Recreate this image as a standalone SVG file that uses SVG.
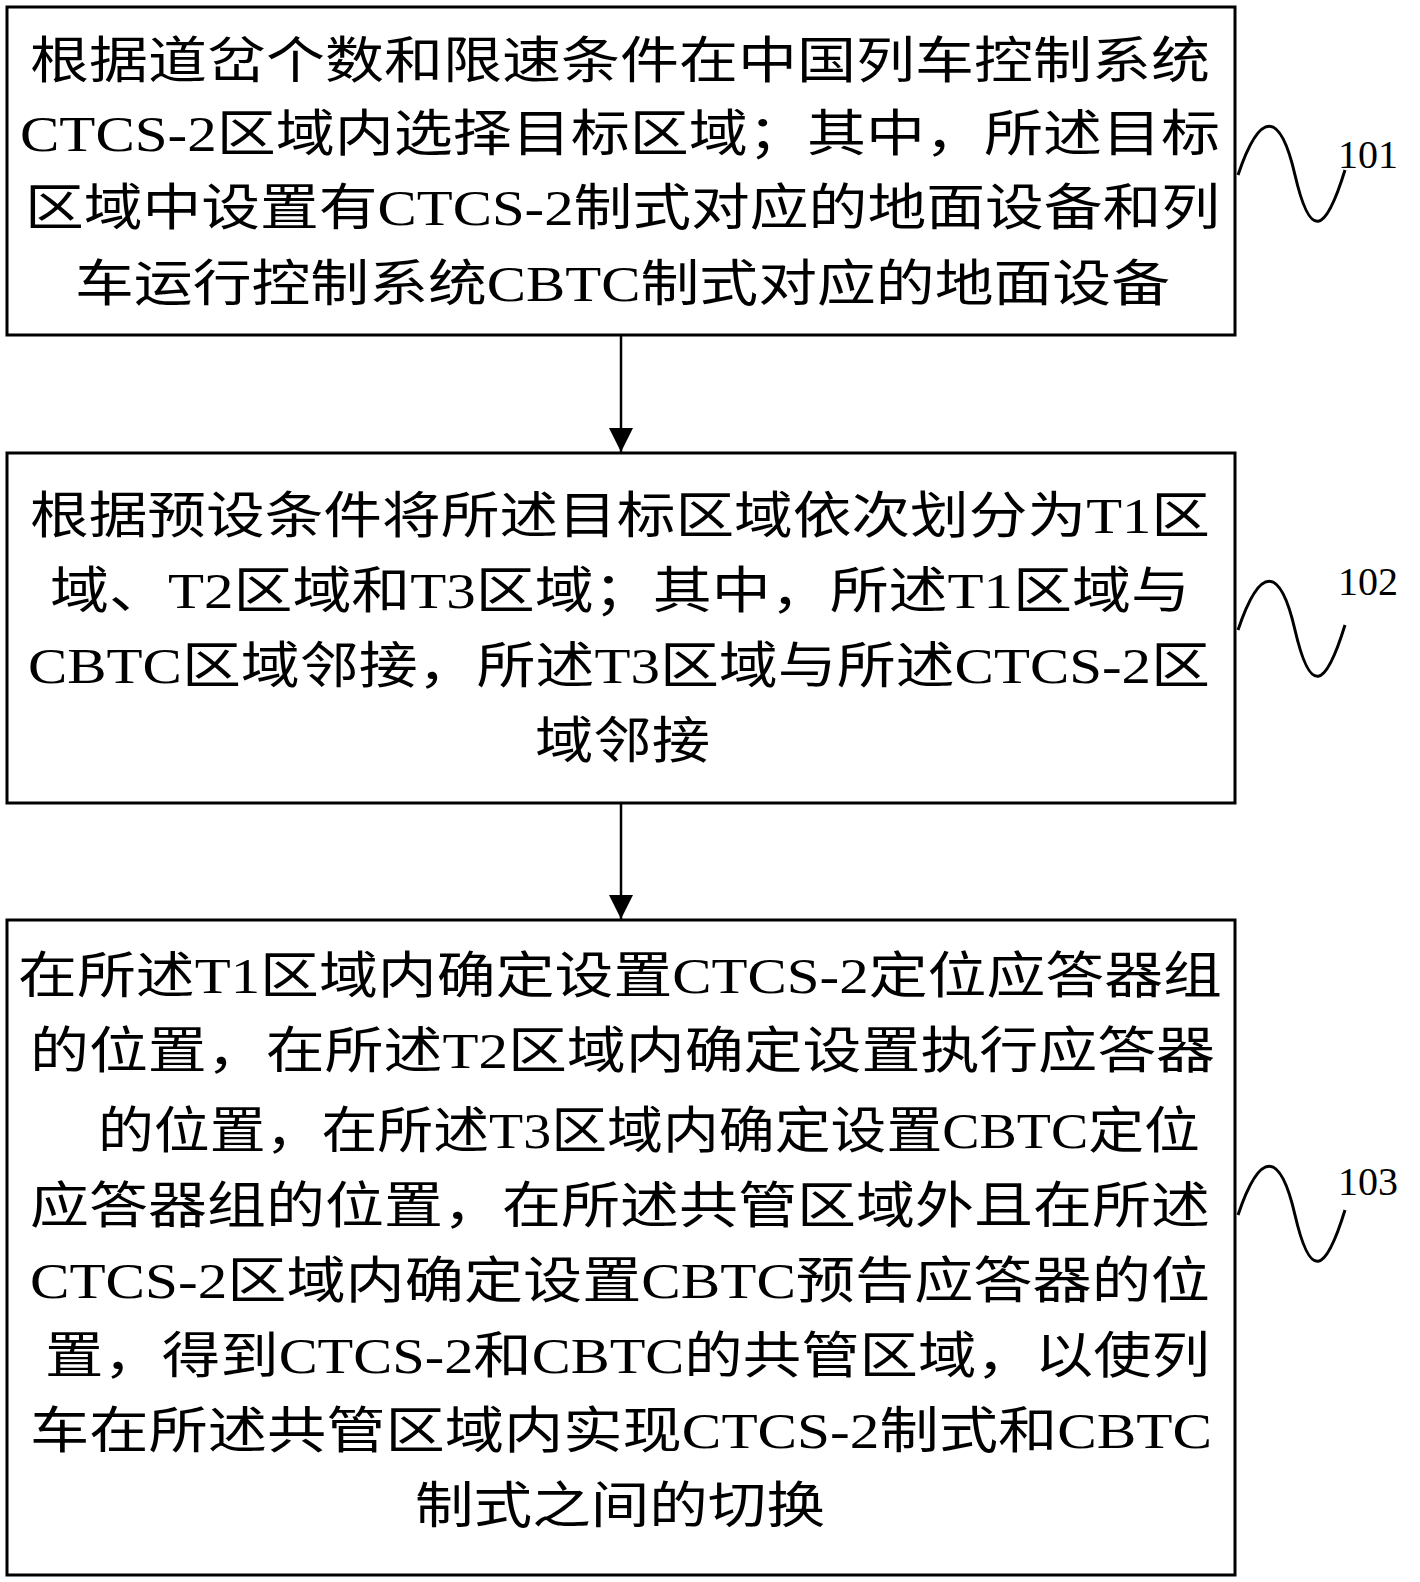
<svg xmlns="http://www.w3.org/2000/svg" width="1420" height="1582" viewBox="0 0 1420 1582">
<style>
.b{fill:#fff;stroke:#000;stroke-width:3}
.t{font-family:"Liberation Serif","Noto Sans CJK SC",serif;font-size:50px;fill:#000}
.l{font-family:"Liberation Serif",serif;font-size:40px;fill:#000}
.c{fill:none;stroke:#000;stroke-width:3}
</style>
<defs><marker id="a" markerWidth="24" markerHeight="28" refX="24" refY="12" orient="auto" markerUnits="userSpaceOnUse" viewBox="0 0 24 24"><path d="M0,0L24,12L0,24z"/></marker></defs>
<rect width="1420" height="1582" fill="#fff"/>
<g id="n101">
<rect class="b" x="7" y="7" width="1228" height="328"/>
<text class="t" x="30" y="78" textLength="1180" lengthAdjust="spacingAndGlyphs">根据道岔个数和限速条件在中国列车控制系统</text>
<text class="t" x="20" y="151" textLength="1200" lengthAdjust="spacingAndGlyphs">CTCS-2区域内选择目标区域；其中，所述目标</text>
<text class="t" x="25" y="225" textLength="1195" lengthAdjust="spacingAndGlyphs">区域中设置有CTCS-2制式对应的地面设备和列</text>
<text class="t" x="75" y="301" textLength="1095" lengthAdjust="spacingAndGlyphs">车运行控制系统CBTC制式对应的地面设备</text>
<path class="c" d="M1238,175 C1260,110 1280,110 1295,175 S1325,235 1345,170"/>
<text class="l" x="1338" y="168">101</text>
</g>
<g id="n102">
<rect class="b" x="7" y="453" width="1228" height="350"/>
<text class="t" x="30" y="533" textLength="1180" lengthAdjust="spacingAndGlyphs">根据预设条件将所述目标区域依次划分为T1区</text>
<text class="t" x="50" y="608" textLength="1140" lengthAdjust="spacingAndGlyphs">域、T2区域和T3区域；其中，所述T1区域与</text>
<text class="t" x="28" y="683" textLength="1182" lengthAdjust="spacingAndGlyphs">CBTC区域邻接，所述T3区域与所述CTCS-2区</text>
<text class="t" x="535" y="758" textLength="175" lengthAdjust="spacingAndGlyphs">域邻接</text>
<path class="c" d="M1238,630 C1260,565 1280,565 1295,630 S1325,690 1345,625"/>
<text class="l" x="1338" y="595">102</text>
</g>
<g id="n103">
<rect class="b" x="7" y="920" width="1228" height="655"/>
<text class="t" x="18" y="993" textLength="1204" lengthAdjust="spacingAndGlyphs">在所述T1区域内确定设置CTCS-2定位应答器组</text>
<text class="t" x="30" y="1068" textLength="1185" lengthAdjust="spacingAndGlyphs">的位置，在所述T2区域内确定设置执行应答器</text>
<text class="t" x="98" y="1148" textLength="1102" lengthAdjust="spacingAndGlyphs">的位置，在所述T3区域内确定设置CBTC定位</text>
<text class="t" x="30" y="1223" textLength="1180" lengthAdjust="spacingAndGlyphs">应答器组的位置，在所述共管区域外且在所述</text>
<text class="t" x="30" y="1298" textLength="1180" lengthAdjust="spacingAndGlyphs">CTCS-2区域内确定设置CBTC预告应答器的位</text>
<text class="t" x="45" y="1373" textLength="1165" lengthAdjust="spacingAndGlyphs">置，得到CTCS-2和CBTC的共管区域，以使列</text>
<text class="t" x="30" y="1448" textLength="1182" lengthAdjust="spacingAndGlyphs">车在所述共管区域内实现CTCS-2制式和CBTC</text>
<text class="t" x="415" y="1523" textLength="410" lengthAdjust="spacingAndGlyphs">制式之间的切换</text>
<path class="c" d="M1238,1215 C1260,1150 1280,1150 1295,1215 S1325,1275 1345,1210"/>
<text class="l" x="1338" y="1195">103</text>
</g>
<g id="connectors">
<line class="c" x1="621" y1="335" x2="621" y2="452" marker-end="url(#a)" style="stroke-width:2.5"/>
<line class="c" x1="621" y1="803" x2="621" y2="919" marker-end="url(#a)" style="stroke-width:2.5"/>
</g>
</svg>
